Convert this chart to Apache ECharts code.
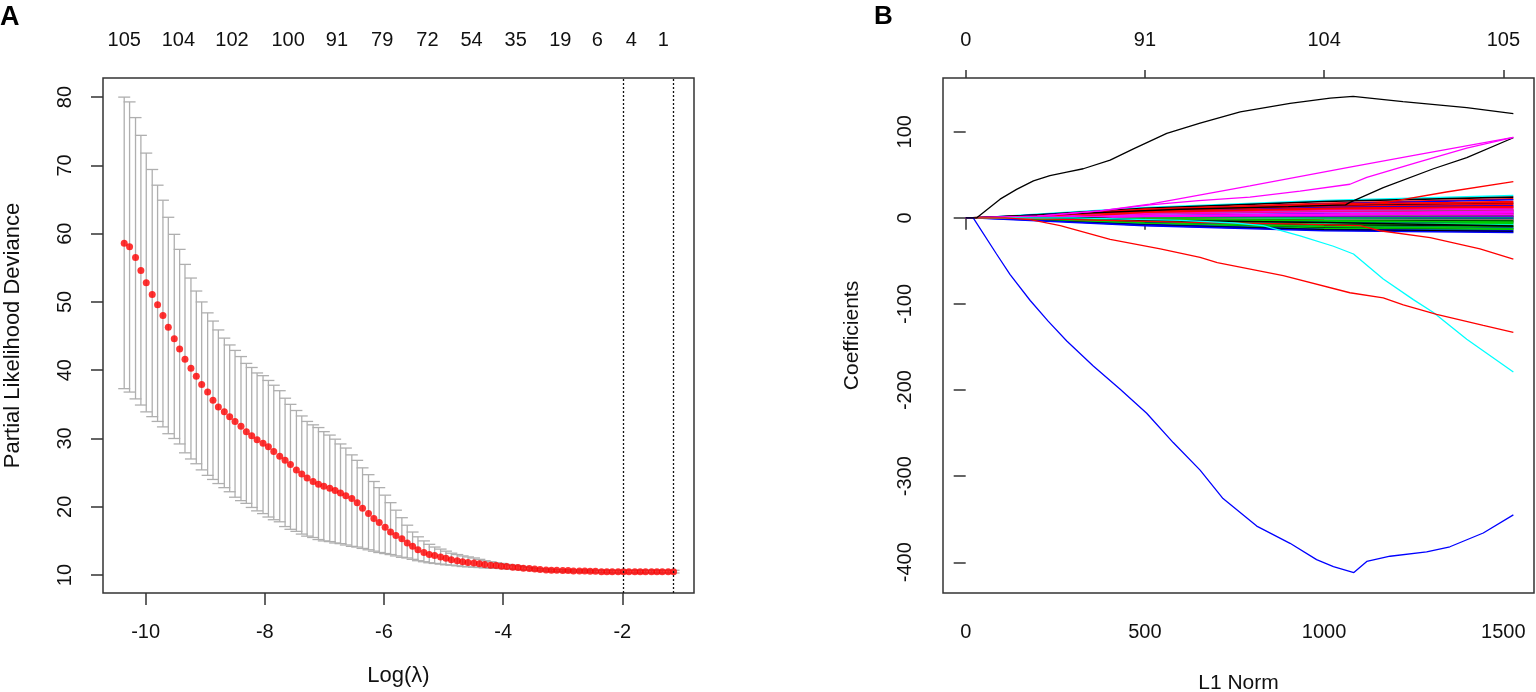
<!DOCTYPE html>
<html>
<head>
<meta charset="utf-8">
<script src="https://cdn.jsdelivr.net/npm/echarts@6/dist/echarts.min.js"></script>
<style>
html,body{margin:0;padding:0;background:#fff;}
#chart{width:1536px;height:692px;}
</style>
</head>
<body>
<div id="chart"></div>
<script>
// ---------- Panel A data (cv.glmnet) ----------
const logLambda = [-10.36,-10.27,-10.17,-10.08,-9.99,-9.89,-9.80,-9.71,-9.62,-9.52,
-9.43,-9.34,-9.24,-9.15,-9.06,-8.96,-8.87,-8.78,-8.68,-8.59,
-8.50,-8.40,-8.31,-8.22,-8.13,-8.03,-7.94,-7.85,-7.75,-7.66,
-7.57,-7.47,-7.38,-7.29,-7.19,-7.10,-7.01,-6.91,-6.82,-6.73,
-6.64,-6.54,-6.45,-6.36,-6.26,-6.17,-6.08,-5.98,-5.89,-5.80,
-5.70,-5.61,-5.52,-5.43,-5.33,-5.24,-5.15,-5.05,-4.96,-4.87,
-4.77,-4.68,-4.59,-4.49,-4.40,-4.31,-4.21,-4.12,-4.03,-3.94,
-3.84,-3.75,-3.66,-3.56,-3.47,-3.38,-3.28,-3.19,-3.10,-3.00,
-2.91,-2.82,-2.72,-2.63,-2.54,-2.45,-2.35,-2.26,-2.17,-2.07,
-1.98,-1.89,-1.79,-1.70,-1.61,-1.51,-1.42,-1.33,-1.23,-1.14];

const cvMean = [58.6,58.1,56.5,54.6,52.8,51.1,49.6,48.0,46.3,44.6,
43.1,41.6,40.3,39.1,37.9,36.8,35.6,34.6,33.9,33.2,
32.5,31.8,31.0,30.4,29.8,29.3,28.8,28.1,27.4,26.8,
26.2,25.4,24.8,24.2,23.7,23.3,23.0,22.7,22.4,22.0,
21.6,21.2,20.6,19.8,19.0,18.3,17.7,17.0,16.3,15.8,
15.3,14.7,14.2,13.7,13.3,13.0,12.85,12.65,12.45,12.25,
12.1,11.95,11.85,11.75,11.65,11.55,11.45,11.4,11.3,11.25,
11.15,11.1,11.0,10.95,10.9,10.8,10.75,10.7,10.7,10.65,
10.65,10.6,10.6,10.6,10.55,10.55,10.5,10.5,10.5,10.5,
10.5,10.5,10.5,10.5,10.5,10.5,10.5,10.5,10.5,10.5];

const cvUpper = [80.0,79.3,77.0,74.4,71.8,69.4,67.1,64.9,62.4,59.9,
57.7,55.5,53.5,51.6,50.0,48.4,47.2,45.9,44.7,43.7,
42.9,42.0,41.0,40.4,39.6,39.2,38.5,37.8,37.0,35.9,
35.0,34.1,33.3,32.5,32.0,31.6,31.0,30.5,29.9,29.2,
28.6,27.6,26.8,25.7,24.7,23.7,22.8,21.7,20.6,19.5,
18.4,17.3,16.3,15.6,15.0,14.5,14.1,13.8,13.5,13.2,
13.0,12.8,12.65,12.5,12.3,12.1,11.95,11.8,11.7,11.55,
11.45,11.35,11.25,11.1,11.0,10.95,10.9,10.85,10.8,10.8,
10.75,10.75,10.75,10.75,10.7,10.7,10.7,10.7,10.7,10.7,
10.7,10.7,10.7,10.7,10.7,10.7,10.7,10.7,10.7,10.7];

const cvLower = [37.3,36.8,35.8,34.9,33.9,33.2,32.5,31.7,30.7,30.0,
29.2,27.9,27.0,26.3,25.4,24.6,24.0,23.4,22.8,22.2,
21.4,20.9,20.5,19.9,19.4,19.0,18.5,18.1,17.8,17.1,
16.7,16.4,16.0,15.7,15.5,15.2,15.0,14.9,14.7,14.6,
14.4,14.2,14.1,13.9,13.7,13.5,13.3,13.15,13.0,12.8,
12.6,12.5,12.3,12.1,11.95,11.8,11.7,11.6,11.5,11.45,
11.35,11.25,11.2,11.15,11.1,11.05,11.0,11.0,10.95,10.9,
10.85,10.8,10.75,10.7,10.65,10.6,10.55,10.5,10.5,10.45,
10.45,10.45,10.4,10.4,10.4,10.35,10.35,10.35,10.3,10.3,
10.3,10.3,10.3,10.3,10.3,10.3,10.3,10.3,10.3,10.3];

const cutoffLogLambda = [-1.98, -1.15];
const topNzeroPositions = [-10.36,-9.45,-8.55,-7.61,-6.79,-6.03,-5.27,-4.53,-3.79,-3.04,-2.42,-1.85,-1.31];
const topNzeroLabels = ['105','104','102','100','91','79','72','54','35','19','6','4','1'];
const aXTicks = [-10,-8,-6,-4,-2];
const aYTicks = [10,20,30,40,50,60,70,80];

// ---------- Panel B data (coefficient paths vs L1 norm) ----------
const bXTicks = [0,500,1000,1500];
const bTopLabels = ['0','91','104','105'];
const bYTicks = [-400,-300,-200,-100,0,100];

const pathBlackTop = [[0,0],[31,0],[96,21.7],[142,33],[189,43],[235,49],[282,53],[328,57],[403,67],[468,80],[561,98],[654,110],[766,123],[905,133],[1017,139],[1081,141],[1220,135],[1398,128],[1528,121]];
const pathBlueBottom = [[0,0],[21,0],[86,-42],[124,-66],[180,-96],[230,-120],[282,-143],[356,-172],[431,-199],[505,-227],[579,-261],[654,-293],[718,-326],[812,-358],[905,-378],[979,-397],[1026,-405],[1083,-412],[1119,-399],[1184,-393],[1286,-388],[1351,-382],[1444,-366],[1528,-345]];
const pathRedDown1 = [[0,0],[110,0],[180,-2],[264,-9],[403,-25],[543,-36],[654,-46],[702,-52],[886,-67],[1072,-87],[1165,-93],[1221,-101],[1314,-112],[1444,-125],[1528,-133]];
const pathCyanDown = [[0,0],[300,0],[600,-3],[750,-6],[830,-9],[933,-21],[1026,-33],[1082,-42],[1165,-71],[1249,-95],[1305,-110],[1398,-141],[1528,-179]];
const pathRedDown2 = [[0,0],[100,0],[300,-2],[600,-5],[900,-7],[1101,-9],[1156,-15],[1296,-23],[1435,-36],[1528,-48]];
const pathMagentaUp1 = [[0,0],[200,2],[375,8],[514,16],[793,37],[1072,59],[1258,73],[1443,87],[1528,93.5]];
const pathMagentaUp2 = [[0,0],[200,2],[375,8],[514,15],[650,20],[793,24],[933,31],[1072,39],[1119,47],[1258,64],[1398,81],[1528,93.5]];
const pathBlackUp2 = [[0,0],[300,5],[600,10],[900,13],[1060,15],[1072,18],[1165,35],[1305,57],[1398,70],[1528,93]];
const pathRedUp = [[0,0],[300,4],[600,9],[900,13],[1100,16],[1174,18],[1341,30],[1528,42]];

// the dense bundle of small coefficients: [entryL1, coefAt500, coefAt1000, coefAtEnd]
const bundleKnots = [
[40,12,20,26],[60,11,19,24],[80,10,17,22],[30,9,16,21],[100,9,15,19],[50,8,14,17],
[120,7,13,16],[20,7,12,15],[150,6,12,14],[70,6,11,13],[200,5,10,12],[90,5,9,11],
[250,4.5,8.5,10],[130,4,8,9.5],[300,4,7.5,9],[160,3.5,7,8.5],[60,3.5,7,8],[350,3,6.5,7.5],
[180,3,6,7],[400,2.5,5.5,6.5],[220,2.5,5,6],[110,2,5,5.5],[450,2,4.5,5],[260,1.5,4,4.5],
[140,1.5,3.5,4],[480,1,3,3.5],[300,1,2.5,3],[170,1,2,2.5],[420,0.5,1.5,2],[330,0.5,1,1.5],
[480,0,0.5,1],[380,0,0.5,0.5],[0,0,0,0],[360,0,-0.5,-0.5],[460,0,-0.5,-1],[280,-0.5,-1,-1.5],
[410,-0.5,-1.5,-2],[190,-1,-2,-2.5],[320,-1,-2.5,-3],[240,-1.5,-3,-3.5],[100,-2,-3.5,-4],[210,-2,-4,-5],
[150,-2.5,-5,-6],[270,-3,-6,-7],[90,-3.5,-7,-8],[200,-4,-7.5,-9],[130,-4.5,-8.5,-10],[230,-5,-9.5,-11],
[60,-5.5,-10.5,-12],[170,-6,-11.5,-13],[110,-6.5,-12.5,-14],[40,-7.5,-13.5,-15],[80,-8.5,-14,-16],[30,-9,-15,-17],
[140,10,16,18],[260,6.5,10.5,12.5],[90,2.5,4,8],[320,1.5,3,6],[200,-1.5,-3.5,-5.5],[350,-3,-5.5,-9.5],[120,-6,-10,-12.5]
];
const bundleKnotL1 = [500, 1000, 1528];

// ---------- styles ----------
const rColors = {K:'#000000', R:'#FF0000', G:'#00CD00', B:'#0000FF', C:'#00FFFF', M:'#FF00FF'};
const bundleColorKeys = 'CKRBRKRRBRRMRMMGMRMMCMBMRMMGMKBMKCGBGCRGKGBGCGKGBKGBKB' + 'RRMMGKG';
const FONT = '"Liberation Sans", Arial, sans-serif';
const TXT = '#111111';
const BOX = '#333333';

const chart = echarts.init(document.getElementById('chart'), null, {renderer:'canvas'});

const bSeries = [];
bundleKnots.forEach((k, i) => {
  const pts = [[0,0]];
  if (k[0] > 0) pts.push([k[0], 0]);
  pts.push([bundleKnotL1[0], k[1]], [bundleKnotL1[1], k[2]], [bundleKnotL1[2], k[3]]);
  bSeries.push({type:'line', xAxisIndex:2, yAxisIndex:1, data:pts, showSymbol:false, silent:true,
    lineStyle:{color:rColors[bundleColorKeys[i]] || '#000', width:1.6}, z:2});
});
const majors = [
  [pathRedUp, '#FF0000'], [pathBlackUp2, '#000000'], [pathMagentaUp2, '#FF00FF'], [pathMagentaUp1, '#FF00FF'],
  [pathRedDown2, '#FF0000'], [pathCyanDown, '#00FFFF'], [pathRedDown1, '#FF0000'],
  [pathBlueBottom, '#0000FF'], [pathBlackTop, '#000000']
];
majors.forEach(m => {
  bSeries.push({type:'line', xAxisIndex:2, yAxisIndex:1, data:m[0], showSymbol:false, silent:true,
    lineStyle:{color:m[1], width:1.3}, z:3});
});

const labelStyle = {color:TXT, fontSize:20, fontFamily:FONT};
const titleA = {color:TXT, fontSize:22, fontFamily:FONT};
const titleB = {color:TXT, fontSize:21, fontFamily:FONT};

function fmt2(v){ return Number(v).toFixed(2); }
const topMap = {};
topNzeroPositions.forEach((p,i)=>{ topMap[fmt2(p)] = topNzeroLabels[i]; });
const bTopMap = {};
bXTicks.forEach((p,i)=>{ bTopMap[String(p)] = bTopLabels[i]; });

const option = {
  animation:false,
  backgroundColor:'#ffffff',
  grid:[
    {left:103, top:78, width:591, height:515, show:true, borderColor:BOX, borderWidth:1.5, backgroundColor:'transparent', containLabel:false, outerBoundsMode:'none'},
    {left:943, top:78, width:591, height:515, show:true, borderColor:BOX, borderWidth:1.5, backgroundColor:'transparent', containLabel:false, outerBoundsMode:'none'}
  ],
  xAxis:[
    {gridIndex:0, type:'value', position:'bottom', min:-10.716, max:-0.797,
     axisLine:{show:false}, splitLine:{show:false},
     axisTick:{show:true, length:12, lineStyle:{color:BOX, width:1.5}, customValues:aXTicks},
     axisLabel:Object.assign({margin:29, customValues:aXTicks, formatter:v=>String(v)}, labelStyle),
     name:'Log(\u03BB)', nameLocation:'middle', nameGap:72, nameTextStyle:titleA},
    {gridIndex:0, type:'value', position:'top', min:-10.716, max:-0.797,
     axisLine:{show:false}, splitLine:{show:false}, axisTick:{show:false},
     axisLabel:Object.assign({margin:28, customValues:topNzeroPositions, formatter:v=>topMap[fmt2(v)] || ''}, labelStyle)},
    {gridIndex:1, type:'value', position:'bottom', min:-63.3, max:1585.6,
     axisLine:{show:false}, splitLine:{show:false},
     axisTick:{show:true, length:12, lineStyle:{color:BOX, width:1.5}, customValues:bXTicks},
     axisLabel:Object.assign({margin:29, customValues:bXTicks, formatter:v=>String(v)}, labelStyle),
     name:'L1 Norm', nameLocation:'middle', nameGap:80, nameTextStyle:titleB},
    {gridIndex:1, type:'value', position:'top', min:-63.3, max:1585.6,
     axisLine:{show:false}, splitLine:{show:false},
     axisTick:{show:true, length:8, lineStyle:{color:BOX, width:1.5}, customValues:bXTicks},
     axisLabel:Object.assign({margin:28, customValues:bXTicks, formatter:v=>bTopMap[String(v)] || ''}, labelStyle)}
  ],
  yAxis:[
    {gridIndex:0, type:'value', min:7.37, max:82.8,
     axisLine:{show:false}, splitLine:{show:false},
     axisTick:{show:true, length:12, lineStyle:{color:BOX, width:1.5}, customValues:aYTicks},
     axisLabel:Object.assign({margin:28, rotate:90, customValues:aYTicks, formatter:v=>String(v)}, labelStyle),
     name:'Partial Likelihood Deviance', nameLocation:'middle', nameGap:79, nameTextStyle:titleA},
    {gridIndex:1, type:'value', min:-435.7, max:162.4,
     axisLine:{show:false}, splitLine:{show:false},
     axisTick:{show:true, length:12, lineStyle:{color:BOX, width:1.5}, customValues:bYTicks},
     axisLabel:Object.assign({margin:28, rotate:90, customValues:bYTicks, formatter:v=>String(v)}, labelStyle),
     name:'Coefficients', nameLocation:'middle', nameGap:80, nameTextStyle:titleB}
  ],
  graphic:[
    {type:'text', left:0, top:4, style:{text:'A', font:'bold 27px '+FONT, fill:'#000'}},
    {type:'text', left:874, top:4, style:{text:'B', font:'bold 26px '+FONT, fill:'#000'}}
  ],
  series:[
    {type:'custom', xAxisIndex:0, yAxisIndex:0, silent:true, z:2,
     data:logLambda.map((x,i)=>[x, cvLower[i], cvUpper[i]]),
     encode:{x:0, y:[1,2]},
     renderItem:function(params, api){
       const x = api.value(0);
       const pLo = api.coord([x, api.value(1)]);
       const pHi = api.coord([x, api.value(2)]);
       const w = 6;
       const st = {stroke:'#AFAFAF', lineWidth:1.3};
       return {type:'group', children:[
         {type:'line', shape:{x1:pLo[0], y1:pLo[1], x2:pHi[0], y2:pHi[1]}, style:st},
         {type:'line', shape:{x1:pHi[0]-w, y1:pHi[1], x2:pHi[0]+w, y2:pHi[1]}, style:st},
         {type:'line', shape:{x1:pLo[0]-w, y1:pLo[1], x2:pLo[0]+w, y2:pLo[1]}, style:st}
       ]};
     }},
    {type:'scatter', xAxisIndex:0, yAxisIndex:0, silent:true, z:4,
     data:logLambda.map((x,i)=>[x, cvMean[i]]),
     symbol:'circle', symbolSize:7, itemStyle:{color:'#FF0000'},
     markLine:{silent:true, symbol:['none','none'], label:{show:false},
       lineStyle:{color:'#111', width:1.3, type:[2,2]},
       data:cutoffLogLambda.map(v=>({xAxis:v}))}}
  ].concat(bSeries)
};
chart.setOption(option);
</script>
</body>
</html>
